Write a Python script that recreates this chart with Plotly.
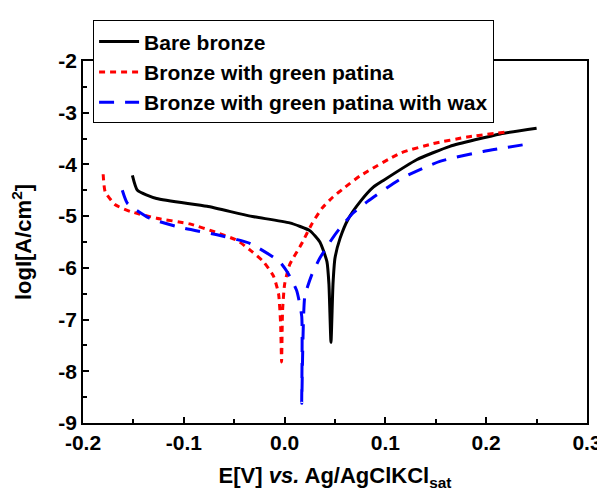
import plotly.graph_objects as go

# Tafel curves (E in V, log I in A/cm2)
bare_E = [-0.151, -0.146, -0.127, -0.077, -0.034, 0.005, 0.025, 0.035, 0.042, 0.044, 0.046,
          0.048, 0.050, 0.055, 0.063, 0.075, 0.088, 0.098, 0.131, 0.164, 0.214, 0.250]
bare_logI = [-4.21, -4.50, -4.66, -4.81, -5.00, -5.13, -5.28, -5.50, -5.88, -6.32, -7.44,
             -6.32, -5.81, -5.43, -5.06, -4.72, -4.44, -4.31, -3.91, -3.65, -3.41, -3.30]

patina_E = [-0.180, -0.178, -0.168, -0.153, -0.127, -0.094, -0.067, -0.047, -0.032, -0.021,
            -0.011, -0.006, -0.004, -0.003, -0.002, 0.000, 0.005, 0.017, 0.027, 0.037, 0.048,
            0.060, 0.075, 0.115, 0.147, 0.181, 0.221]
patina_logI = [-4.19, -4.53, -4.78, -4.91, -5.04, -5.15, -5.32, -5.47, -5.69, -5.88,
               -6.16, -6.50, -7.06, -7.82, -6.82, -6.32, -5.94, -5.53, -5.15, -4.85, -4.63,
               -4.44, -4.22, -3.78, -3.60, -3.47, -3.37]

wax_E = [-0.161, -0.156, -0.134, -0.101, -0.067, -0.034, -0.005, 0.003, 0.012, 0.017, 0.017,
         0.020, 0.027, 0.035, 0.045, 0.053, 0.068, 0.082, 0.115, 0.154, 0.197, 0.240]
wax_logI = [-4.50, -4.75, -5.04, -5.23, -5.36, -5.53, -5.88, -6.09, -6.44, -6.94, -8.62,
            -6.56, -6.13, -5.81, -5.50, -5.28, -4.94, -4.72, -4.28, -3.94, -3.75, -3.61]

x_ticks = [-0.2, -0.1, 0.0, 0.1, 0.2, 0.3]
x_labels = ["-0.2", "-0.1", "0.0", "0.1", "0.2", "0.3"]
y_ticks = [-9, -8, -7, -6, -5, -4, -3, -2]
y_labels = ["-9", "-8", "-7", "-6", "-5", "-4", "-3", "-2"]

FONT = "Arial, Liberation Sans, sans-serif"

fig = go.Figure()
fig.add_trace(go.Scatter(x=bare_E, y=bare_logI, mode="lines", name="Bare bronze",
                         line=dict(color="black", width=3, shape="spline", smoothing=0.5)))
fig.add_trace(go.Scatter(x=patina_E, y=patina_logI, mode="lines", name="Bronze with green patina",
                         line=dict(color="red", width=3, dash="6px,5px", shape="spline", smoothing=0.5)))
fig.add_trace(go.Scatter(x=wax_E, y=wax_logI, mode="lines", name="Bronze with green patina with wax",
                         line=dict(color="blue", width=3, dash="15px,11px", shape="spline", smoothing=0.5)))

axis_common = dict(showline=True, linecolor="black", linewidth=1.5, mirror=True,
                   ticks="inside", ticklen=6, tickwidth=1.5, tickcolor="black",
                   showgrid=False, zeroline=False, automargin=False,
                   tickfont=dict(family=FONT, size=21, color="black", weight="bold"))

fig.update_xaxes(range=[-0.2, 0.3], tickvals=x_ticks, ticktext=x_labels,
                 minor=dict(tickvals=[-0.15, -0.05, 0.05, 0.15, 0.25], ticks="inside",
                            ticklen=4, tickcolor="black"),
                 title=dict(text="E[V] <i>vs.</i> Ag/AgClKCl<sub>sat</sub>",
                            font=dict(family=FONT, size=22, color="black", weight="bold"),
                            standoff=15),
                 **axis_common)
fig.update_yaxes(range=[-9, -2], tickvals=y_ticks, ticktext=y_labels,
                 minor=dict(tickvals=[-8.5, -7.5, -6.5, -5.5, -4.5, -3.5, -2.5], ticks="inside",
                            ticklen=4, tickcolor="black"),
                 title=dict(text="logI[A/cm<sup>2</sup>]",
                            font=dict(family=FONT, size=22, color="black", weight="bold"),
                            standoff=22),
                 **axis_common)

# page body adds an 8px offset, so the figure is a bit smaller than the window
fig.update_layout(
    width=597, height=487,
    margin=dict(l=75, r=18, t=42, b=72),
    paper_bgcolor="white", plot_bgcolor="white",
    legend=dict(x=0.02, y=1.112, xanchor="left", yanchor="top",
                bgcolor="white", bordercolor="black", borderwidth=1,
                font=dict(family=FONT, size=21, color="black", weight="bold"),
                tracegroupgap=0, itemwidth=40),
    showlegend=True,
)

fig.write_html("out.html")
